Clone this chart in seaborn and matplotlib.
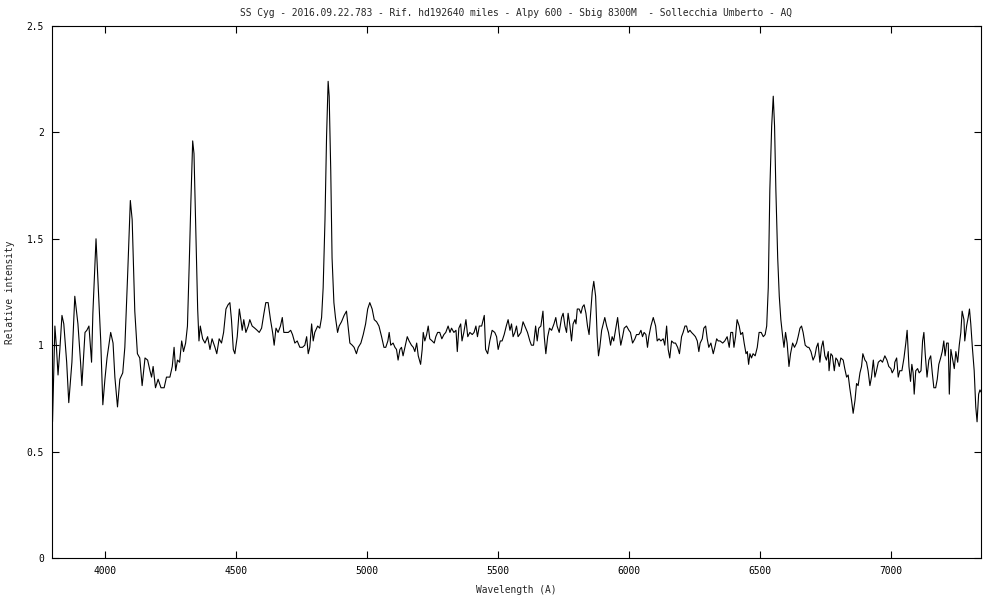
import matplotlib
matplotlib.use('Agg')
import matplotlib.pyplot as plt
import seaborn as sns
import pandas as pd

# SS Cyg spectrum
wavelength = [
    3800, 3809, 3815, 3821, 3828, 3836, 3843, 3854, 3862, 3874, 3885, 3897, 3907, 3912, 3924, 3931,
    3939, 3949, 3954, 3966, 3973, 3984, 3992, 4000, 4008, 4022, 4031, 4038, 4048, 4057, 4068, 4076,
    4087, 4097, 4104, 4114, 4124, 4133, 4142, 4153, 4163, 4172, 4178, 4184, 4193, 4203, 4214, 4226,
    4235, 4248, 4257, 4264, 4270, 4277, 4285, 4293, 4300, 4308, 4315, 4322, 4328, 4335, 4340, 4347,
    4354, 4359, 4364, 4373, 4382, 4392, 4401, 4409, 4420, 4427, 4436, 4445, 4453, 4462, 4470, 4477,
    4483, 4490, 4496, 4505, 4513, 4519, 4524, 4530, 4538, 4547, 4553, 4562, 4572, 4581, 4589, 4598,
    4607, 4614, 4623, 4632, 4640, 4646, 4653, 4661, 4670, 4677, 4683, 4691, 4700, 4709, 4716, 4725,
    4734, 4744, 4754, 4763, 4770, 4776, 4782, 4789, 4795, 4801, 4812, 4820, 4827, 4833, 4840, 4846,
    4852, 4856, 4862, 4867, 4874, 4880, 4888, 4894, 4903, 4913, 4922, 4928, 4935, 4944, 4951, 4960,
    4967, 4977, 4986, 4995, 5003, 5011, 5020, 5028, 5037, 5046, 5056, 5065, 5072, 5080, 5085, 5091,
    5100, 5107, 5113, 5119, 5126, 5132, 5138, 5145, 5154, 5161, 5170, 5177, 5183, 5190, 5196, 5205,
    5211, 5215, 5221, 5228, 5234, 5240, 5249, 5257, 5263, 5270, 5278, 5286, 5294, 5301, 5310, 5317,
    5323, 5332, 5340, 5345, 5351, 5358, 5363, 5370, 5378, 5385, 5393, 5402, 5409, 5416, 5422, 5429,
    5438, 5444, 5448, 5453, 5461, 5469, 5478, 5488, 5495, 5501, 5509, 5516, 5524, 5532, 5539, 5546,
    5552, 5558, 5565, 5571, 5577, 5588, 5596, 5606, 5613, 5622, 5628, 5636, 5644, 5650, 5656, 5664,
    5672, 5677, 5683, 5690, 5697, 5705, 5714, 5721, 5726, 5734, 5743, 5749, 5756, 5762, 5768, 5775,
    5781, 5787, 5794, 5798, 5803, 5810, 5817, 5823, 5829, 5836, 5842, 5848, 5854, 5860, 5866, 5873,
    5879, 5884, 5889, 5896, 5902, 5908, 5915, 5922, 5930, 5936, 5942, 5949, 5957, 5963, 5969, 5976,
    5982, 5991, 6000, 6006, 6014, 6023, 6029, 6038, 6046, 6052, 6058, 6065, 6071, 6076, 6084, 6093,
    6102, 6108, 6115, 6122, 6131, 6137, 6144, 6150, 6156, 6163, 6171, 6178, 6186, 6193, 6201, 6207,
    6214, 6220, 6226, 6233, 6239, 6247, 6254, 6261, 6267, 6272, 6280, 6286, 6293, 6299, 6305, 6313,
    6322, 6328, 6335, 6341, 6348, 6358, 6366, 6375, 6383, 6389, 6396, 6401, 6407, 6413, 6421, 6427,
    6434, 6440, 6447, 6452, 6457, 6462, 6468, 6474, 6482, 6490, 6497, 6505, 6513, 6520, 6526, 6532,
    6538, 6545, 6551, 6556, 6561, 6568, 6574, 6580, 6587, 6592, 6598, 6604, 6611, 6617, 6625, 6632,
    6640, 6646, 6653, 6659, 6665, 6673, 6682, 6687, 6695, 6703, 6710, 6716, 6722, 6729, 6735, 6741,
    6748, 6754, 6761, 6764, 6771, 6777, 6784, 6790, 6796, 6803, 6809, 6818, 6824, 6831, 6837, 6843,
    6850, 6856, 6863, 6869, 6875, 6882, 6888, 6893, 6901, 6907, 6913, 6920, 6926, 6933, 6939, 6945,
    6952, 6961, 6968, 6977, 6985, 6992, 7000, 7005, 7013, 7015, 7022, 7028, 7034, 7042, 7050, 7057,
    7062, 7069, 7075, 7080, 7085, 7089, 7095, 7102, 7108, 7115, 7121, 7126, 7131, 7138, 7145, 7152,
    7158, 7164, 7171, 7177, 7183, 7190, 7196, 7202, 7207, 7213, 7219, 7223, 7229, 7236, 7242, 7248,
    7255, 7261, 7267, 7272, 7279, 7282, 7289, 7295, 7300, 7305, 7311, 7318, 7324, 7329, 7335, 7340,
    7344,
]
intensity = [
    0.64, 1.09, 0.99, 0.86, 0.98, 1.14, 1.10, 0.92, 0.73, 0.92, 1.23, 1.10, 0.92, 0.81, 1.06, 1.07,
    1.09, 0.92, 1.15, 1.50, 1.31, 1.02, 0.72, 0.84, 0.94, 1.06, 1.01, 0.85, 0.71, 0.84, 0.87, 0.99,
    1.34, 1.68, 1.59, 1.16, 0.96, 0.94, 0.81, 0.94, 0.93, 0.88, 0.85, 0.90, 0.80, 0.84, 0.80, 0.80,
    0.85, 0.85, 0.90, 0.99, 0.88, 0.93, 0.92, 1.02, 0.97, 1.01, 1.09, 1.39, 1.67, 1.96, 1.90, 1.54,
    1.17, 1.02, 1.09, 1.03, 1.01, 1.04, 0.98, 1.03, 0.99, 0.96, 1.03, 1.01, 1.06, 1.17, 1.19, 1.20,
    1.12, 0.98, 0.96, 1.04, 1.17, 1.12, 1.07, 1.12, 1.06, 1.09, 1.12, 1.09, 1.08, 1.07, 1.06, 1.08,
    1.15, 1.20, 1.20, 1.12, 1.06, 1.00, 1.08, 1.06, 1.09, 1.13, 1.06, 1.06, 1.06, 1.07, 1.05, 1.01,
    1.02, 0.99, 0.99, 1.00, 1.04, 0.96, 0.99, 1.10, 1.02, 1.06, 1.09, 1.08, 1.13, 1.27, 1.59, 1.98,
    2.24, 2.17, 1.82, 1.41, 1.20, 1.13, 1.06, 1.09, 1.11, 1.14, 1.16, 1.09, 1.01, 1.00, 0.99, 0.96,
    0.99, 1.01, 1.05, 1.10, 1.17, 1.20, 1.17, 1.12, 1.11, 1.09, 1.04, 0.99, 0.99, 1.02, 1.06, 1.00,
    1.01, 0.99, 0.98, 0.93, 0.98, 0.99, 0.95, 0.99, 1.04, 1.02, 1.00, 0.99, 0.97, 1.01, 0.95, 0.91,
    0.98, 1.06, 1.02, 1.05, 1.09, 1.03, 1.02, 1.01, 1.04, 1.06, 1.06, 1.03, 1.05, 1.06, 1.09, 1.06,
    1.08, 1.06, 1.07, 0.97, 1.08, 1.10, 1.02, 1.06, 1.12, 1.04, 1.06, 1.05, 1.06, 1.09, 1.04, 1.09,
    1.09, 1.12, 1.14, 0.98, 0.96, 1.02, 1.07, 1.06, 1.04, 0.98, 1.02, 1.02, 1.05, 1.09, 1.12, 1.07,
    1.10, 1.04, 1.06, 1.09, 1.04, 1.06, 1.11, 1.08, 1.06, 1.02, 1.00, 1.00, 1.09, 1.02, 1.08, 1.09,
    1.16, 1.04, 0.96, 1.04, 1.08, 1.07, 1.10, 1.13, 1.09, 1.06, 1.13, 1.15, 1.09, 1.06, 1.15, 1.09,
    1.02, 1.10, 1.12, 1.10, 1.17, 1.17, 1.15, 1.18, 1.19, 1.15, 1.09, 1.05, 1.15, 1.25, 1.30, 1.23,
    1.04, 0.95, 0.99, 1.07, 1.10, 1.13, 1.09, 1.06, 1.00, 1.04, 1.02, 1.07, 1.13, 1.06, 1.00, 1.04,
    1.08, 1.09, 1.07, 1.06, 1.01, 1.03, 1.05, 1.05, 1.07, 1.04, 1.06, 1.05, 0.99, 1.04, 1.09, 1.13,
    1.09, 1.02, 1.03, 1.02, 1.03, 1.00, 1.09, 0.98, 0.94, 1.02, 1.01, 1.01, 0.99, 0.96, 1.04, 1.06,
    1.09, 1.09, 1.06, 1.07, 1.06, 1.05, 1.04, 1.02, 0.97, 1.01, 1.03, 1.08, 1.09, 1.03, 0.99, 1.01,
    0.96, 0.99, 1.03, 1.02, 1.02, 1.01, 1.02, 1.04, 0.99, 1.06, 1.06, 0.99, 1.04, 1.12, 1.09, 1.05,
    1.06, 1.01, 0.96, 0.97, 0.91, 0.96, 0.94, 0.96, 0.95, 0.99, 1.06, 1.06, 1.04, 1.05, 1.09, 1.27,
    1.73, 2.03, 2.17, 2.03, 1.73, 1.41, 1.23, 1.12, 1.04, 0.99, 1.06, 1.01, 0.90, 0.96, 1.01, 0.99,
    1.01, 1.04, 1.08, 1.09, 1.06, 1.00, 0.99, 0.99, 0.97, 0.93, 0.95, 0.99, 1.01, 0.92, 0.99, 1.02,
    0.95, 0.93, 0.97, 0.88, 0.96, 0.95, 0.88, 0.94, 0.93, 0.90, 0.94, 0.93, 0.89, 0.85, 0.86, 0.80,
    0.74, 0.68, 0.74, 0.82, 0.81, 0.87, 0.90, 0.96, 0.93, 0.92, 0.88, 0.81, 0.85, 0.93, 0.85, 0.88,
    0.92, 0.93, 0.92, 0.95, 0.93, 0.90, 0.89, 0.87, 0.89, 0.92, 0.94, 0.85, 0.88, 0.88, 0.94, 1.01,
    1.07, 0.90, 0.83, 0.91, 0.87, 0.77, 0.88, 0.89, 0.87, 0.88, 1.02, 1.06, 0.96, 0.85, 0.93, 0.95,
    0.87, 0.80, 0.80, 0.84, 0.91, 0.94, 0.97, 1.02, 0.95, 1.01, 1.01, 0.77, 0.98, 0.93, 0.89, 0.97,
    0.92, 1.00, 1.06, 1.16, 1.12, 1.02, 1.09, 1.13, 1.17, 1.10, 0.99, 0.88, 0.71, 0.64, 0.77, 0.79,
    0.78,
]

x_ticks = [4000, 4500, 5000, 5500, 6000, 6500, 7000]
y_ticks = [0, 0.5, 1, 1.5, 2, 2.5]
y_tick_labels = ['0', '0.5', '1', '1.5', '2', '2.5']

title = 'SS Cyg - 2016.09.22.783 - Rif. hd192640 miles - Alpy 600 - Sbig 8300M  - Sollecchia Umberto - AQ'

spec = pd.DataFrame({'wl': wavelength, 'flux': intensity})

sns.set_style('ticks')
plt.rcParams['font.family'] = ['DejaVu Sans Mono', 'DejaVu Sans']
fs = 6.9

fig = plt.figure(figsize=(10, 6), dpi=100)
ax = fig.add_axes([0.052, 0.07, 0.929, 0.8867])

sns.lineplot(data=spec, x='wl', y='flux', ax=ax, color='black', linewidth=0.8,
             sort=False, estimator=None)

ax.set_xlim(3798, 7344)
ax.set_ylim(0, 2.5)
ax.set_xticks(x_ticks)
ax.set_xticklabels([str(t) for t in x_ticks])
ax.set_yticks(y_ticks)
ax.set_yticklabels(y_tick_labels)
ax.tick_params(direction='in', length=5, width=0.8, top=True, right=True,
               labelsize=fs, pad=6, colors='black')
for s in ax.spines.values():
    s.set_linewidth(0.8)
    s.set_color('black')

ax.set_xlabel('Wavelength (A)', fontsize=fs, labelpad=6)
ax.set_ylabel('Relative intensity', fontsize=fs, labelpad=8)
ax.set_title(title, fontsize=fs, pad=7)

fig.savefig('out.png', dpi=100, facecolor='white')
